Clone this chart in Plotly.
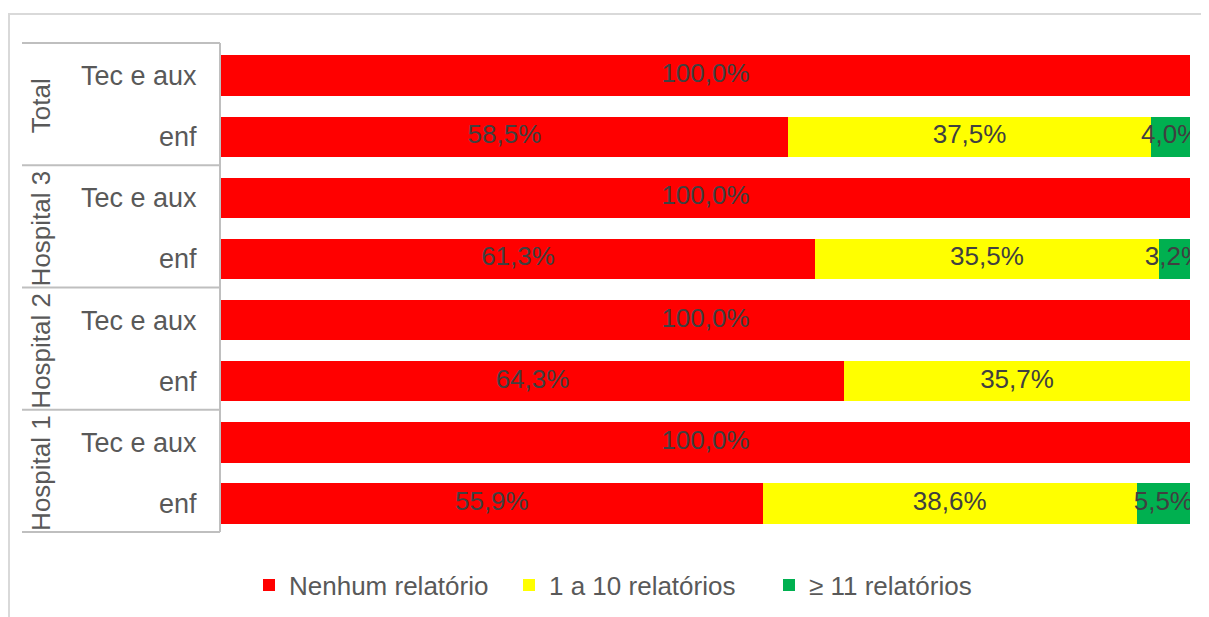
import plotly.graph_objects as go

# Data (top to bottom as displayed)
groups = ["Total", "Hospital 3", "Hospital 2", "Hospital 1"]
subcats = ["Tec e aux", "enf"]
series_names = ["Nenhum relatório", "1 a 10 relatórios", "≥ 11 relatórios"]
nenhum = [100.0, 58.5, 100.0, 61.3, 100.0, 64.3, 100.0, 55.9]
um_a_dez = [0.0, 37.5, 0.0, 35.5, 0.0, 35.7, 0.0, 38.6]
onze_mais = [0.0, 4.0, 0.0, 3.2, 0.0, 0.0, 0.0, 5.5]

colors = ["#FF0000", "#FFFF00", "#00B050"]
FONT = "Liberation Sans, Arial, sans-serif"
TXT = "#404040"
AX = "#595959"
LINE = "#BFBFBF"

row_labels = [s for g in groups for s in subcats]
n = len(row_labels)
ys = list(range(n))

fig = go.Figure()
all_series = [nenhum, um_a_dez, onze_mais]
for name, vals, col in zip(series_names, all_series, colors):
    fig.add_trace(go.Bar(
        y=ys, x=vals, name=name, orientation="h",
        marker=dict(color=col, line=dict(width=0)),
        hoverinfo="skip",
    ))

# data labels centred in each segment
lx, ly, lt = [], [], []
for i in range(n):
    base = 0.0
    for vals in all_series:
        v = vals[i]
        if v > 0:
            lx.append(base + v / 2)
            ly.append(i)
            lt.append(f"{v:.1f}".replace(".", ",") + "%")
        base += v
fig.add_trace(go.Scatter(
    x=lx, y=ly, text=lt, mode="text", showlegend=False, hoverinfo="skip",
    textfont=dict(family=FONT, size=26, color=TXT), textposition="middle center",
))

OFF = 8  # page body margin
W, H = 1209 - OFF, 617 - OFF
ML = 221 - OFF
MT = 43 - OFF
MR = W - (1190 - OFF)
MB = H - (532 - OFF)
pw, ph = W - ML - MR, H - MT - MB

def px_x(p):
    return (p - OFF - ML) / pw

def px_y(p):
    return 1 - (p - OFF - MT) / ph

shapes = []
# group divider lines (category table)
nsub = len(subcats)
for b in range(0, n + 1, nsub):
    yp = 1 - b / n
    shapes.append(dict(type="line", xref="paper", yref="paper",
                       x0=px_x(22), x1=px_x(220), y0=yp, y1=yp,
                       line=dict(color=LINE, width=2)))
shapes.append(dict(type="line", xref="paper", yref="paper",
                   x0=px_x(220), x1=px_x(220), y0=0, y1=1,
                   line=dict(color=LINE, width=2)))
# chart outer border (top and left)
shapes.append(dict(type="path", xref="paper", yref="paper",
                   path=f"M {px_x(9)} {px_y(640)} L {px_x(9)} {px_y(14)} L {px_x(1230)} {px_y(14)}",
                   line=dict(color="#D9D9D9", width=2)))

annotations = []
for gi, g in enumerate(groups):
    annotations.append(dict(
        text=g, xref="paper", yref="y", x=px_x(41), y=gi * nsub + (nsub - 1) / 2,
        textangle=-90, showarrow=False, xanchor="center", yanchor="middle",
        font=dict(family=FONT, size=26, color=AX),
    ))

shift = 0.033
fig.update_layout(
    width=W, height=H,
    margin=dict(l=ML, r=MR, t=MT, b=MB, autoexpand=False),
    barmode="stack", bargap=0.34,
    plot_bgcolor="white", paper_bgcolor="white",
    font=dict(family=FONT, size=26, color=AX),
    xaxis=dict(range=[0, 100], showgrid=False, zeroline=False, showticklabels=False,
               showline=False, fixedrange=True, automargin=False),
    yaxis=dict(range=[n - 0.5 - shift, -0.5 - shift], tickvals=ys, ticktext=row_labels,
               showgrid=False, zeroline=False, showline=False, automargin=False,
               ticks="outside", ticklen=18, tickcolor="rgba(0,0,0,0)",
               tickfont=dict(family=FONT, size=27, color=AX)),
    legend=dict(orientation="h", x=px_x(639), xanchor="center",
                y=px_y(585), yanchor="middle",
                entrywidth=215, entrywidthmode="pixels",
                font=dict(family=FONT, size=26, color=AX),
                traceorder="normal", itemclick=False),
    shapes=shapes, annotations=annotations,
    showlegend=True,
)

fig.write_html("out.html")
